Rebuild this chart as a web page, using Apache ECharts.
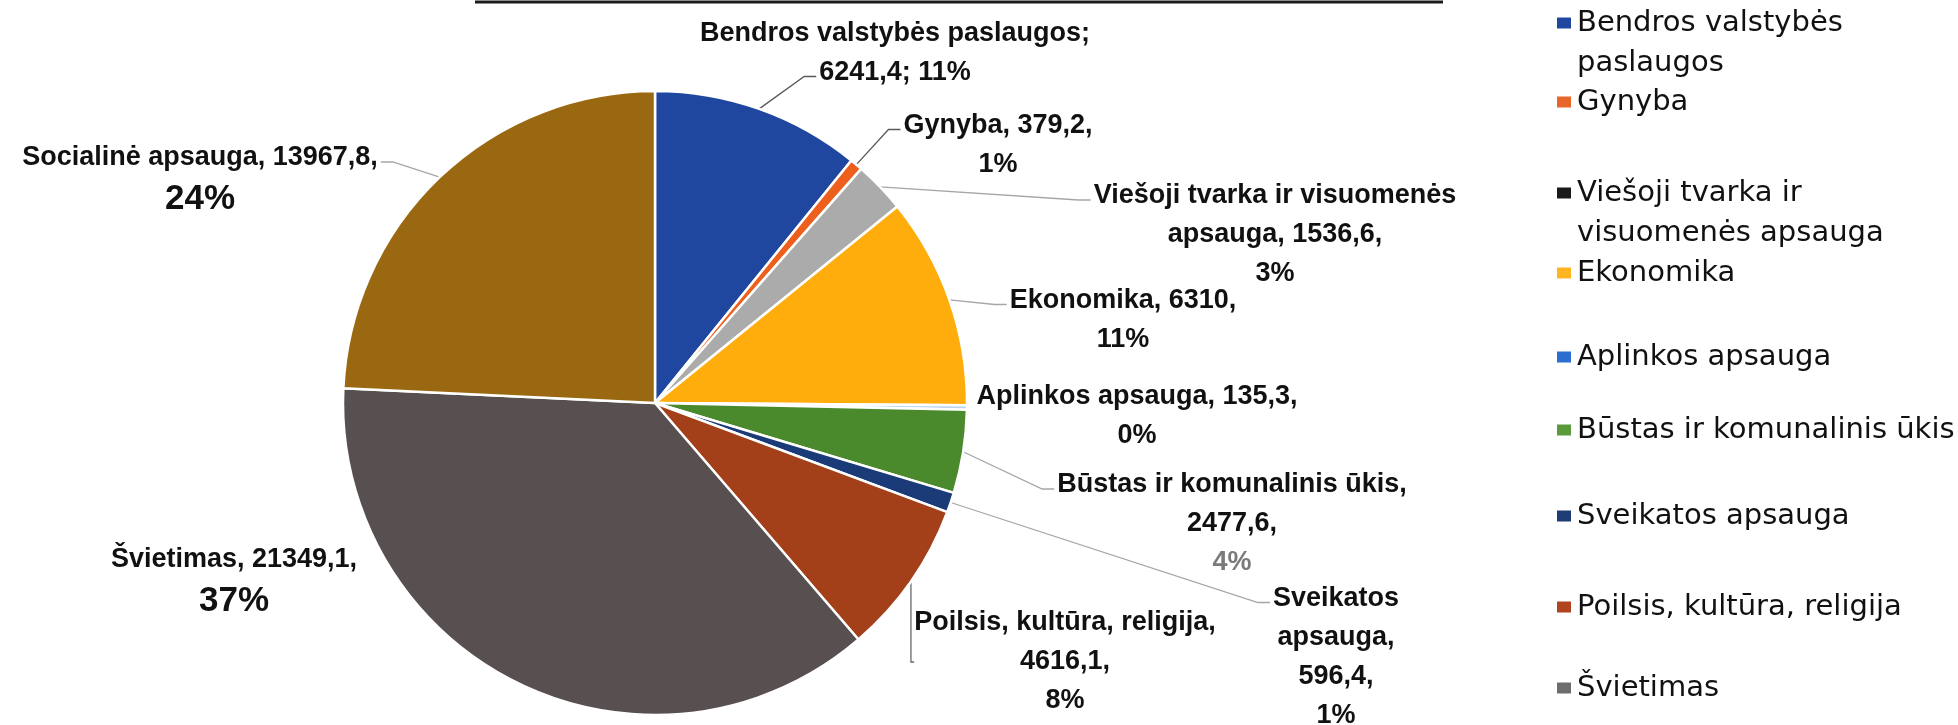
<!DOCTYPE html>
<html>
<head>
<meta charset="utf-8">
<script src="https://cdn.jsdelivr.net/npm/echarts@6/dist/echarts.min.js"></script>
<style>
html,body{margin:0;padding:0;background:#ffffff;}
#chart{width:1958px;height:725px;}
</style>
</head>
<body>
<div id="chart"></div>
<script>
// ---- data ----
const categories = [
  'Bendros valstybės paslaugos',
  'Gynyba',
  'Viešoji tvarka ir visuomenės apsauga',
  'Ekonomika',
  'Aplinkos apsauga',
  'Būstas ir komunalinis ūkis',
  'Sveikatos apsauga',
  'Poilsis, kultūra, religija',
  'Švietimas',
  'Socialinė apsauga'
];
const values = [6241.4, 379.2, 1536.6, 6310, 135.3, 2477.6, 596.4, 4616.1, 21349.1, 13967.8];
const legendNames = categories.slice(0, 9);

// ---- styles / layout ----
const sliceColors = ['#1f47a0', '#ec5f1c', '#ababab', '#ffad0c', '#b9d6ee', '#4a8a2c', '#1b3a78', '#a3401a', '#585050', '#9b6812'];
const legendColors = ['#1f47a0', '#e8662a', '#1a1a1a', '#ffb521', '#2a6ed0', '#5a9a3a', '#1e3c75', '#b0441e', '#6e6e6e'];
const labelTpl = [
  '{n};\n{v}; {p}',
  '{n}, {v},\n{p}',
  '{n}, {v},\n{p}',
  '{n}, {v},\n{p}',
  '{n}, {v},\n{p}',
  '{n},\n{v},\n{g}',
  '{n},\n{v},\n{p}',
  '{n},\n{v},\n{p}',
  '{n}, {v},\n{P}',
  '{n}, {v},\n{P}'
];
const labelNameBreak = [0, 0, 4, 0, 0, 0, 1, 0, 0, 0];
const labelAnchors = [[895, 53], [998, 145], [1275, 235], [1123, 320], [1137, 416], [1232, 524], [1336, 657], [1065, 662], [234, 582], [200, 180]];
const showLeader = [true, true, true, true, false, true, true, true, false, true];
const leaderAttach = [1, 0, 0, 0, -1, 0, 0, -1, -1, 0];   // which label line the leader meets (-1 = automatic)
const leaderSide = ['L', 'L', 'L', 'L', 'L', 'L', 'L', 'L', 'L', 'R'];
const leaderColors = ['#5a5a5a', '#5a5a5a', '#a6a6a6', '#a6a6a6', '#a6a6a6', '#a6a6a6', '#a6a6a6', '#6a6a6a', '#a6a6a6', '#a6a6a6'];
const legendBreak = [2, 0, 3, 0, 0, 0, 0, 0, 0];
const legendLineY = [23, 102, 193, 273, 357, 430, 516, 607, 688];

const LBL_FS = 27, LBL_LH = 39, LBL_FONT = 'bold 27px "Liberation Sans"';
const total = values.reduce((a, b) => a + b, 0);
const fmtVal = v => String(v).replace('.', ',');
const pct = v => Math.round(v / total * 100) + '%';
function breakWords(s, k) {
  if (!k) return s;
  const w = s.split(' ');
  return w.slice(0, k).join(' ') + '\n' + w.slice(k).join(' ');
}
function labelText(i) {
  return labelTpl[i]
    .replace('{n}', breakWords(categories[i], labelNameBreak[i]))
    .replace('{v}', fmtVal(values[i]))
    .replace('{p}', pct(values[i]))
    .replace('{g}', '{g|' + pct(values[i]) + '}')
    .replace('{P}', '{big|' + pct(values[i]) + '}');
}
function plainLines(i) {
  return labelText(i).replace(/\{[a-z]+\|([^}]*)\}/g, '$1').split('\n');
}
function lineHeights(i) {
  return labelText(i).split('\n').map(s => s.indexOf('{big|') >= 0 ? 44 : LBL_LH);
}
const mctx = document.createElement('canvas').getContext('2d');
function textWidth(s) { mctx.font = LBL_FONT; return mctx.measureText(s).width; }

const LEG_LH = 40;
const legends = legendNames.map((n, i) => {
  const two = legendBreak[i] > 0;
  return {
    data: [{ name: n, itemStyle: { color: legendColors[i] } }],
    orient: 'vertical',
    left: 1555,
    top: legendLineY[i] - (two ? 1.5 * LEG_LH : 0.5 * LEG_LH),
    padding: 0,
    icon: 'rect',
    itemWidth: 16,
    itemHeight: 13,
    selectedMode: false,
    // a leading empty line keeps the marker level with the first text line
    formatter: name => two ? '\n' + breakWords(name, legendBreak[i]) : name,
    textStyle: {
      fontFamily: 'DejaVu Sans',
      fontSize: 29,
      color: '#111111',
      lineHeight: LEG_LH
    }
  };
});

const chart = echarts.init(document.getElementById('chart'), null, { renderer: 'canvas' });
chart.setOption({
  backgroundColor: '#ffffff',
  animation: false,
  legend: legends,
  graphic: [{
    type: 'line',
    shape: { x1: 475, y1: 2, x2: 1443, y2: 2 },
    style: { stroke: '#1a1a1a', lineWidth: 3 },
    silent: true
  }],
  series: [{
    type: 'pie',
    center: [655, 403],
    radius: 312,
    startAngle: 90,
    clockwise: true,
    avoidLabelOverlap: false,
    itemStyle: { borderColor: '#ffffff', borderWidth: 2.5 },
    label: {
      show: true,
      position: 'outside',
      formatter: p => labelText(p.dataIndex),
      fontFamily: 'Liberation Sans',
      fontWeight: 'bold',
      fontSize: LBL_FS,
      lineHeight: LBL_LH,
      color: '#111111',
      align: 'center',
      rich: {
        big: { fontFamily: 'Liberation Sans', fontWeight: 'bold', fontSize: 35, lineHeight: 44, color: '#111111' },
        g: { fontFamily: 'Liberation Sans', fontWeight: 'bold', fontSize: LBL_FS, lineHeight: LBL_LH, color: '#7a7a7a' }
      }
    },
    labelLine: {
      show: true,
      length: 12,
      length2: 12,
      smooth: false,
      lineStyle: { color: '#a6a6a6', width: 1.3 }
    },
    labelLayout: function (params) {
      const i = params.dataIndex;
      const a = labelAnchors[i];
      const out = { x: a[0], y: a[1], align: 'center', verticalAlign: 'middle' };
      const k = leaderAttach[i];
      const pts = params.labelLinePoints;
      if (k >= 0 && pts && pts.length) {
        const lines = plainLines(i);
        const lh = lineHeights(i);
        const blockH = lh.reduce((s, h) => s + h, 0);
        let yTop = a[1] - blockH / 2;
        for (let j = 0; j < k; j++) yTop += lh[j];
        const ey = yTop + lh[k] / 2 + 4;
        const half = textWidth(lines[k]) / 2 + 3;
        const dir = leaderSide[i] === 'R' ? 1 : -1;
        const ex = a[0] + dir * half;
        out.labelLinePoints = [[pts[0][0], pts[0][1]], [ex + dir * 12, ey], [ex, ey]];
      }
      return out;
    },
    emphasis: { disabled: true },
    data: categories.map((n, i) => ({
      name: n,
      value: values[i],
      itemStyle: { color: sliceColors[i] },
      labelLine: { show: showLeader[i], lineStyle: { color: leaderColors[i] } }
    }))
  }]
});
</script>
</body>
</html>
